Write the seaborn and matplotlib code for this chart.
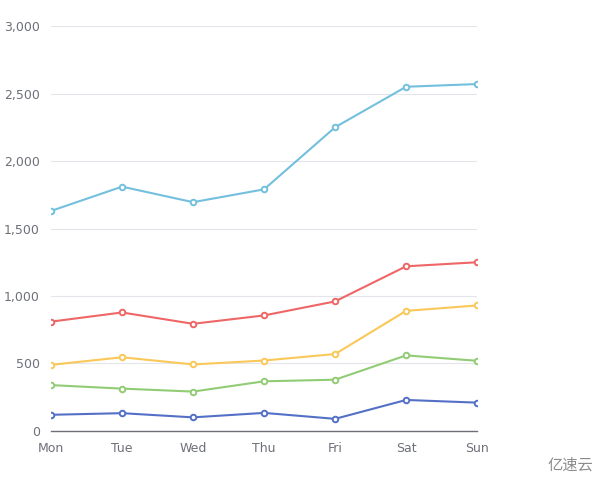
import pandas as pd
import seaborn as sns
import matplotlib
import matplotlib.pyplot as plt

matplotlib.use("Agg")

# Data (stacked totals as drawn)
days = ["Mon", "Tue", "Wed", "Thu", "Fri", "Sat", "Sun"]
email = [120, 132, 101, 134, 90, 230, 210]
union_ads = [220, 182, 191, 234, 290, 330, 310]
video_ads = [150, 232, 201, 154, 190, 330, 410]
direct = [320, 332, 301, 334, 390, 330, 320]
search_engine = [820, 932, 901, 934, 1290, 1330, 1320]

series_names = ["Email", "Union Ads", "Video Ads", "Direct", "Search Engine"]
series_values = [email, union_ads, video_ads, direct, search_engine]
colors = ["#5470c6", "#91cc75", "#fac858", "#ee6666", "#73c0de"]
y_ticks = [0, 500, 1000, 1500, 2000, 2500, 3000]

# Build stacked long table
rows = []
running = [0] * len(days)
for name, vals in zip(series_names, series_values):
    running = [r + v for r, v in zip(running, vals)]
    for i, d in enumerate(days):
        rows.append({"day": i, "value": running[i], "series": name})
df = pd.DataFrame(rows)

sns.set_style("white")
fig = plt.figure(figsize=(6.04, 4.87), dpi=100)
ax = fig.add_axes([0.0844, 0.115, 0.7056, 0.8316])

sns.lineplot(
    data=df, x="day", y="value", hue="series",
    palette=dict(zip(series_names, colors)),
    linewidth=1.5, marker="o", markersize=4,
    markerfacecolor="white", markeredgewidth=1.4,
    legend=False, ax=ax,
)
# marker edges should match line colors
for line, c in zip(ax.get_lines(), colors):
    line.set_markeredgecolor(c)

ax.set_xlim(0, len(days) - 1)
ax.set_ylim(0, 3000)
ax.set_xticks(range(len(days)))
ax.set_xticklabels(days)
ax.set_yticks(y_ticks)
ax.set_yticklabels([f"{v:,}" for v in y_ticks])
ax.set_xlabel("")
ax.set_ylabel("")

ax.grid(axis="y", color="#e3e5ea", linewidth=0.8)
ax.set_axisbelow(True)
for s in ["top", "right", "left"]:
    ax.spines[s].set_visible(False)
ax.spines["bottom"].set_color("#6e7079")
ax.spines["bottom"].set_linewidth(1)
ax.spines["bottom"].set_zorder(0)

ax.tick_params(axis="x", colors="#6e7079", labelcolor="#6e7079", length=5,
               width=1, direction="out", pad=3, labelsize=9)
ax.tick_params(axis="y", length=0, labelcolor="#6e7079", pad=8, labelsize=9)

# Watermark
fig.text(0.982, 0.045, "亿速云", ha="right", va="center", fontsize=11,
         color="#8c8c8c", family=["Noto Sans CJK SC", "DejaVu Sans"])

fig.savefig("out.png", dpi=100)
